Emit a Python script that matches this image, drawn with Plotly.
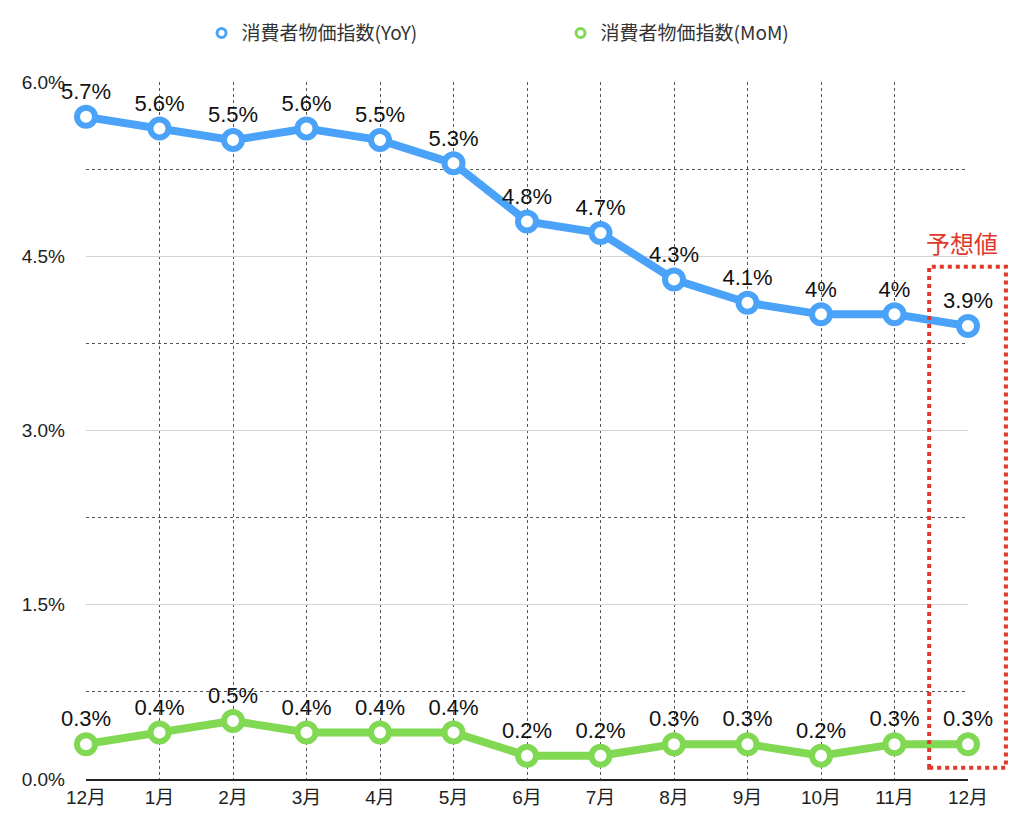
import plotly.graph_objects as go

# data
months = ["12月", "1月", "2月", "3月", "4月", "5月", "6月",
          "7月", "8月", "9月", "10月", "11月", "12月"]
yoy = [5.7, 5.6, 5.5, 5.6, 5.5, 5.3, 4.8, 4.7, 4.3, 4.1, 4.0, 4.0, 3.9]
mom = [0.3, 0.4, 0.5, 0.4, 0.4, 0.4, 0.2, 0.2, 0.3, 0.3, 0.2, 0.3, 0.3]
yoy_labels = ["5.7%", "5.6%", "5.5%", "5.6%", "5.5%", "5.3%", "4.8%",
              "4.7%", "4.3%", "4.1%", "4%", "4%", "3.9%"]
mom_labels = ["0.3%", "0.4%", "0.5%", "0.4%", "0.4%", "0.4%", "0.2%",
              "0.2%", "0.3%", "0.3%", "0.2%", "0.3%", "0.3%"]
y_ticks = [0, 1.5, 3.0, 4.5, 6.0]
y_tick_labels = ["0.0%", "1.5%", "3.0%", "4.5%", "6.0%"]
series_names = ["消費者物価指数(YoY)", "消費者物価指数(MoM)"]

BLUE = "#4aa3f8"
GREEN = "#80d853"
RED = "#e0392c"
FONT = "Liberation Sans, Noto Sans CJK JP, sans-serif"
CJK = "Noto Sans CJK JP, sans-serif"

xs = list(range(len(months)))

fig = go.Figure()

for vals, labels, color in [(yoy, yoy_labels, BLUE), (mom, mom_labels, GREEN)]:
    fig.add_trace(go.Scatter(
        x=xs, y=vals,
        mode="lines+markers+text",
        text=labels,
        textposition="top center",
        textfont=dict(size=22, color="#111", family=FONT),
        line=dict(color=color, width=8),
        marker=dict(size=18, color="white", line=dict(color=color, width=6)),
        cliponaxis=False,
        showlegend=False,
        hoverinfo="skip",
    ))

# legend-only entries (marker only, like the original)
for name, color in zip(series_names, [BLUE, GREEN]):
    fig.add_trace(go.Scatter(
        x=[None], y=[None], mode="markers", name=name,
        marker=dict(size=9, color="white", line=dict(color=color, width=3)),
    ))

# forecast box around the last point
fig.add_shape(type="rect", xref="paper", yref="paper",
              x0=0.956, x1=1.043, y0=0.016, y1=0.735,
              line=dict(color=RED, width=4, dash="dot"))
fig.add_annotation(text="予想値", xref="paper", yref="paper",
                   x=0.993, y=0.742, xanchor="center", yanchor="bottom",
                   showarrow=False, font=dict(size=24, color=RED, family=CJK))

fig.update_xaxes(
    range=[0, len(months) - 1],
    tickvals=xs, ticktext=months,
    showgrid=True, gridcolor="#555", griddash="dot", gridwidth=1,
    showline=True, linecolor="#222", linewidth=2,
    ticks="", tickfont=dict(size=19, color="#222", family=FONT),
    zeroline=False,
)
fig.update_yaxes(
    range=[0, 6],
    tickvals=y_ticks, ticktext=y_tick_labels,
    showgrid=True, gridcolor="#d4d4d4", gridwidth=1,
    minor=dict(dtick=0.75, showgrid=True, gridcolor="#555", griddash="dot", gridwidth=1),
    showline=False, zeroline=False,
    ticks="", ticklabelstandoff=20,
    tickfont=dict(size=19, color="#222", family=FONT),
)

fig.update_layout(
    width=1024, height=831,
    plot_bgcolor="white", paper_bgcolor="white",
    margin=dict(l=78, r=64, t=74, b=60, autoexpand=False),
    font=dict(family=FONT),
    legend=dict(orientation="h", x=0.131, xanchor="left", y=1.07, yanchor="middle",
                entrywidth=314, font=dict(size=19, color="#333", family=CJK)),
)

fig.write_html("out.html")
